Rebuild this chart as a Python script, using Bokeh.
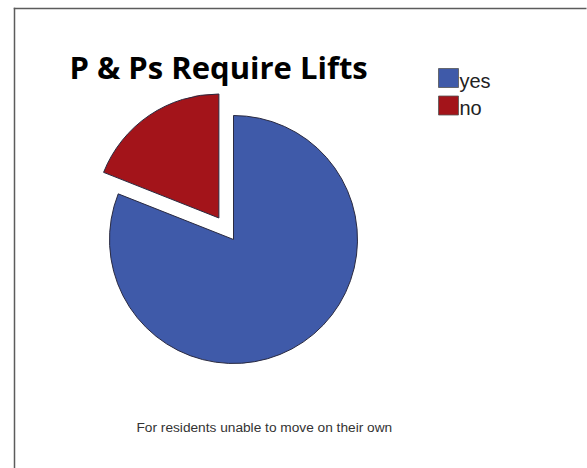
import numpy as np
from bokeh.plotting import figure
from bokeh.models import Range1d, ColumnDataSource
from bokeh.core.properties import value
from bokeh.embed import file_html
from bokeh.resources import INLINE

# Survey answers: do P & Ps require lifts?
categories = ["yes", "no"]
shares = [81, 19]
colors = ["#3F5AA9", "#A3141A"]
title_text = "P & Ps Require Lifts"
caption_text = "For residents unable to move on their own"

W, H = 587, 468
p = figure(width=W, height=H, output_backend="svg", toolbar_location=None,
           x_range=Range1d(0, W), y_range=Range1d(0, H),
           x_axis_location=None, y_axis_location=None, min_border=0)
p.xgrid.visible = False
p.ygrid.visible = False
p.outline_line_color = None
p.background_fill_color = "white"
p.border_fill_color = "white"


def Y(y):
    # convert top-down pixel position to the upward y axis
    return H - y


def baseline(y, size):
    # text anchor that puts the alphabetic baseline at pixel row y
    return Y(y - 0.43 * size)


# slide frame: thin filled bars for the top and left edges
p.quad(left=[13.25, 13.25], right=[14.75, W - 1],
       top=[Y(7.25), Y(7.25)], bottom=[0, Y(8.75)],
       fill_color="#5c5c5c", line_color=None)

# pie: start at 12 o'clock, run clockwise, pull the "no" slice out
cx, cy, r = 233, Y(239), 124
explode = np.array([0, 26])
frac = np.array(shares, dtype=float) / sum(shares)
ang = 2 * np.pi * frac
start = np.pi / 2 - np.concatenate([[0], np.cumsum(ang)[:-1]])
end = start - ang
mid = (start + end) / 2
src = ColumnDataSource(dict(
    x=cx + explode * np.cos(mid),
    y=cy + explode * np.sin(mid),
    start=start, end=end, color=colors, label=categories,
))
p.wedge(x="x", y="y", radius=r, start_angle="start", end_angle="end",
        direction="clock", fill_color="color", line_color="#2a2a40",
        line_width=1, source=src)

# legend
lx, ly0, step = 448, 77.5, 27.5
leg_fs = 20
leg = ColumnDataSource(dict(
    x=[lx] * len(categories),
    y=[Y(ly0 + i * step) for i in range(len(categories))],
    ty=[baseline(ly0 + i * step + 11.5, leg_fs) for i in range(len(categories))],
    color=colors, label=categories,
))
p.rect(x="x", y="y", width=20, height=19, fill_color="color",
       line_color="#555555", line_width=0.8, source=leg)
p.text(x=lx + 11, y="ty", text="label", source=leg,
       text_font=value("Liberation Sans"), text_font_size=f"{leg_fs}px",
       text_color="#222222", text_baseline="alphabetic", text_align="left")

# title
title_fs = 31
p.text(x=[69], y=[baseline(80, title_fs)], text=[title_text],
       text_font=value("Open Sans"), text_font_style="bold",
       text_font_size=f"{title_fs}px", text_color="#000000",
       text_baseline="alphabetic", text_align="left")

# caption
cap_fs = 13.7
p.text(x=[136], y=[baseline(433, cap_fs)], text=[caption_text],
       text_font=value("Liberation Sans"), text_font_size=f"{cap_fs}px",
       text_color="#333333", text_baseline="alphabetic", text_align="left")

open("out.html", "w").write(file_html(p, INLINE))
